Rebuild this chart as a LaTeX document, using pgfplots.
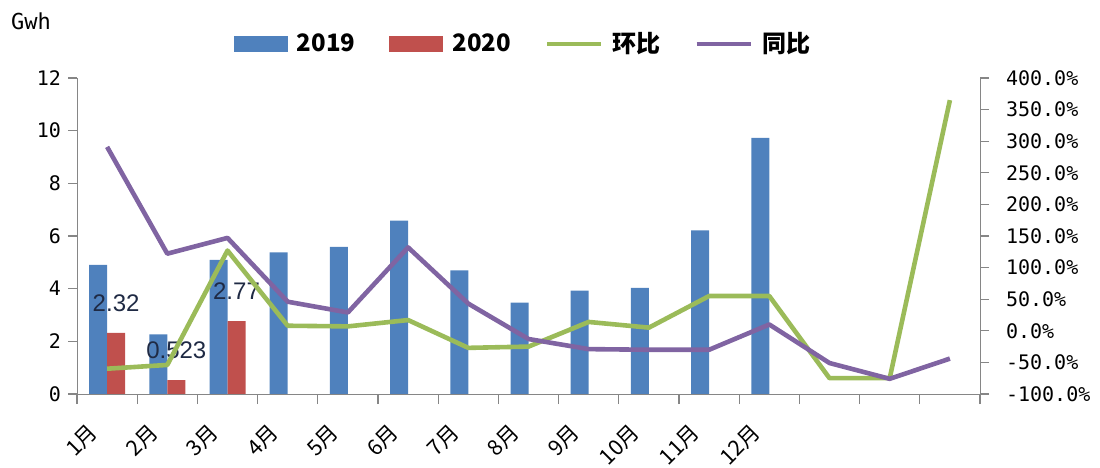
\documentclass[border=0pt]{standalone}
\usepackage{pgfplots}
\pgfplotsset{compat=1.18}
\usepackage{fontspec}
\setmainfont{DejaVu Sans Mono}
\newfontfamily\cjk{Noto Sans CJK SC}
\newfontfamily\arial{Liberation Sans}
\definecolor{c19}{HTML}{4F81BD}
\definecolor{c20}{HTML}{C0504D}
\definecolor{chb}{HTML}{9BBB59}
\definecolor{ctb}{HTML}{8064A2}
\definecolor{axc}{HTML}{868686}
\definecolor{lbl}{HTML}{1F2A44}
\pgfplotsset{
  legbar/.style={legend image code/.code={\fill[##1] (0bp,-4bp) rectangle (27bp,4bp);}},
  legline/.style={legend image code/.code={\draw[##1] (0bp,0bp) -- (27bp,0bp);}},
  common/.style={
    at={(38.5bp,37bp)}, anchor=south west,
    scale only axis, width=451.5bp, height=158bp,
    xmin=0.5, xmax=15.5,
    axis line style={-, draw=axc},
    tick style={draw=axc, line width=0.6bp},
    tick align=outside,
    major tick length=4.5bp, minor tick length=5bp,
    ticklabel style={font=\fontsize{10bp}{12bp}\selectfont},
    /pgf/number format/assume math mode=true,
  }
}
\begin{document}
\begin{tikzpicture}
\useasboundingbox (0,0) rectangle (550bp,234bp);
\begin{axis}[common,
  ymin=0, ymax=12,
  axis x line*=bottom, axis y line*=left,
  ytick={0,2,...,12},
  xtick={1,...,12},
  xticklabels={1月,2月,3月,4月,5月,6月,7月,8月,9月,10月,11月,12月},
  minor xtick={0.5,1.5,...,15.5},
  major x tick style={draw=none},
  xticklabel style={font=\cjk\fontsize{10.8bp}{13bp}\selectfont, rotate=45, anchor=north east, xshift=-10.2bp, yshift=3.9bp},
  ybar=0pt, bar width=9bp,
]
\addplot[fill=c19, draw=none] coordinates {(1,4.90)(2,2.26)(3,5.09)(4,5.38)(5,5.59)(6,6.58)(7,4.69)(8,3.47)(9,3.93)(10,4.03)(11,6.21)(12,9.73)};
\addplot[fill=c20, draw=none,
  nodes near coords={\pgfmathprintnumber[fixed,precision=3]{\pgfplotspointmeta}},
  nodes near coords style={anchor=center, yshift=15bp, font=\arial\fontsize{12bp}{14bp}\selectfont, text=lbl}]
  coordinates {(1,2.32)(2,0.523)(3,2.77)};
\end{axis}
\begin{axis}[common,
  ymin=-100, ymax=400,
  axis x line=none, axis y line*=right,
  ytick={-100,-50,...,400},
  yticklabel={\pgfmathprintnumber[fixed,fixed zerofill,precision=1]{\tick}\%},
  yticklabel style={xshift=5bp},
  legend columns=4,
  legend style={at={(0.495,1.108)}, anchor=center, draw=none, fill=none,
    font=\cjk\bfseries\fontsize{12bp}{14bp}\selectfont,
    /tikz/every odd column/.append style={column sep=2.5bp},
    /tikz/every even column/.append style={column sep=15bp}},
  legend cell align=left,
]
\addlegendimage{legbar, fill=c19, draw=none}
\addlegendentry{2019}
\addlegendimage{legbar, fill=c20, draw=none}
\addlegendentry{2020}
\addplot[legline, chb, line width=2.3bp, line join=round] coordinates {(1,-60)(2,-54)(3,127)(4,8)(5,7)(6,17)(7,-27)(8,-25)(9,14)(10,5)(11,55)(12,55)(13,-75)(14,-75)(15,365)};
\addlegendentry{环比}
\addplot[legline, ctb, line width=2.3bp, line join=round] coordinates {(1,291)(2,122)(3,147)(4,46)(5,29)(6,132)(7,43)(8,-13)(9,-29)(10,-30)(11,-30)(12,10)(13,-51)(14,-76)(15,-44)};
\addlegendentry{同比}
\end{axis}
\node[font=\fontsize{11bp}{13bp}\selectfont] at (15.5bp,223.5bp) {Gwh};
\end{tikzpicture}
\end{document}
